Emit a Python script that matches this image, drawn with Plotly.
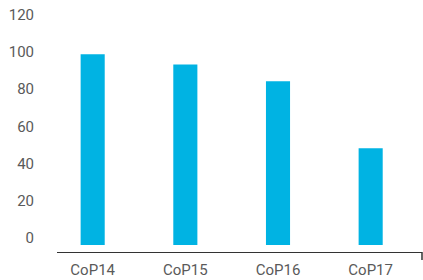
import plotly.graph_objects as go

categories = ["CoP14", "CoP15", "CoP16", "CoP17"]
values = [102.5, 97, 88, 52]
tick_vals = [0, 20, 40, 60, 80, 100, 120]
tick_text = ["0", "20", "40", "60", "80", "100", "120"]

fig = go.Figure()
fig.add_trace(go.Bar(
    x=categories, y=values, width=0.26,
    marker=dict(color="#00B3E3", line=dict(width=0)),
))

font = dict(family="Roboto", size=15, color="#5a5a5a")
fig.update_layout(
    width=423, height=280,
    margin=dict(l=57, r=1, t=10, b=28),
    plot_bgcolor="white", paper_bgcolor="white",
    showlegend=False,
    font=font,
    xaxis=dict(
        range=[-0.385, 3.554], showgrid=False, zeroline=False,
        showline=True, linecolor="#333333", linewidth=1,
        ticks="", tickfont=font, ticklabelstandoff=4,
    ),
    yaxis=dict(
        range=[-3.76, 126.3], showgrid=False, zeroline=False,
        showline=False, ticks="", tickvals=tick_vals, ticktext=tick_text,
        tickfont=font, ticklabelshift=-7, ticklabelstandoff=22,
        ticklabeloverflow="allow",
    ),
    shapes=[dict(
        type="line", xref="paper", yref="paper", ysizemode="pixel",
        yanchor=0, x0=1, x1=1, y0=0, y1=-8,
        line=dict(color="#333333", width=1.5),
    )],
)

fig.write_html(
    "out.html",
    config={"displayModeBar": False},
    post_script="document.body.style.margin='0';document.body.style.overflow='hidden';",
)
